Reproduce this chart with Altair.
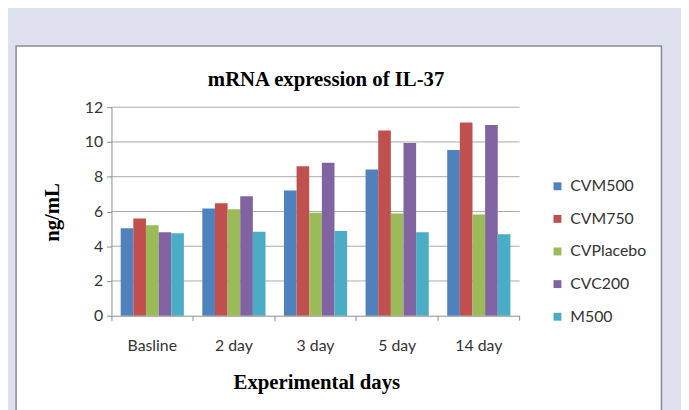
import altair as alt
import pandas as pd

days = ["Basline", "2 day", "3 day", "5 day", "14 day"]
groups = ["CVM500", "CVM750", "CVPlacebo", "CVC200", "M500"]
colors = ["#4F81BD", "#C0504D", "#9BBB59", "#8064A2", "#4BACC6"]

cvm500 = [5.03, 6.17, 7.21, 8.41, 9.54]
cvm750 = [5.60, 6.47, 8.60, 10.66, 11.12]
cvplacebo = [5.20, 6.13, 5.92, 5.88, 5.83]
cvc200 = [4.80, 6.87, 8.80, 9.94, 10.97]
m500 = [4.74, 4.84, 4.88, 4.80, 4.69]

y_ticks = [0, 2, 4, 6, 8, 10, 12]

series = [cvm500, cvm750, cvplacebo, cvc200, m500]
rows = []
for g, vals in zip(groups, series):
    for d, v in zip(days, vals):
        rows.append({"day": d, "group": g, "value": v})
df = pd.DataFrame(rows)

W, H = 413, 211
LABEL_FONT = "Lato"
SERIF = "Liberation Serif"

y_axis = alt.Axis(
    values=y_ticks,
    tickCount=7,
    grid=False,
    tickSize=5,
    tickColor="#8c8c8c",
    domainColor="#8c8c8c",
    labelFont=LABEL_FONT,
    labelFontSize=16,
    labelColor="#333333",
    labelPadding=4,
    labelOverlap=False,
    labelFlush=False,
    title="ng/mL",
    titleFont=SERIF,
    titleFontSize=21,
    titleFontWeight="bold",
    titleColor="black",
    titleAngle=270,
    titleX=-53.7,
    titleY=106,
    titleAlign="center",
    titleBaseline="alphabetic",
    zindex=1,
)
y_scale = alt.Scale(domain=[0, 12], nice=False)

box = alt.Chart(pd.DataFrame({"a": [0]})).mark_rect(
    fill="white", stroke="#8c8c8c", strokeWidth=1.5
).encode(
    x=alt.value(-96.5), x2=alt.value(556.5), y=alt.value(-62), y2=alt.value(330)
)

grid = alt.Chart(pd.DataFrame({"value": y_ticks[1:]})).mark_rule(
    color="#a9a9a9", strokeWidth=1
).encode(
    y=alt.Y("value:Q", scale=y_scale, axis=y_axis),
    x=alt.value(0),
    x2=alt.value(W),
)

bars = alt.Chart(df).mark_bar().encode(
    x=alt.X(
        "day:N",
        sort=days,
        scale=alt.Scale(paddingInner=0, paddingOuter=0),
        axis=alt.Axis(
            bandPosition=0,
            labelAngle=0,
            tickSize=5,
            tickColor="#8c8c8c",
            domainColor="#8c8c8c",
            labelFont=LABEL_FONT,
            labelFontSize=16,
            labelColor="#333333",
            labelBaseline="alphabetic",
            labelPadding=30,
            labelOverlap=False,
            title="Experimental days",
            titleFont=SERIF,
            titleFontSize=21,
            titleFontWeight="bold",
            titleColor="black",
            titleX=207.3,
            titleY=73.3,
            titleAlign="center",
            titleBaseline="alphabetic",
            zindex=1,
        ),
    ),
    xOffset=alt.XOffset(
        "group:N", sort=groups, scale=alt.Scale(paddingInner=0, paddingOuter=0.73)
    ),
    y=alt.Y("value:Q", scale=y_scale, axis=y_axis),
    color=alt.Color(
        "group:N",
        sort=groups,
        scale=alt.Scale(domain=groups, range=colors),
        legend=alt.Legend(
            title=None,
            orient="none",
            legendX=443.3,
            legendY=72,
            symbolType="square",
            symbolSize=64,
            symbolStrokeWidth=0,
            labelFont=LABEL_FONT,
            labelFontSize=16,
            labelColor="#333333",
            labelOffset=5,
            rowPadding=17,
            padding=0,
        ),
    ),
)

end_tick = alt.Chart(pd.DataFrame({"a": [0]})).mark_rule(color="#8c8c8c").encode(
    x=alt.value(W), y=alt.value(H), y2=alt.value(H + 5)
)

title = alt.Chart(pd.DataFrame({"a": [0]})).mark_text(
    text="mRNA expression of IL-37",
    font=SERIF,
    fontSize=21,
    fontWeight="bold",
    color="black",
    align="center",
    baseline="alphabetic",
).encode(x=alt.value(217.2), y=alt.value(-21))

chart = alt.layer(box, grid, bars, end_tick, title).properties(
    width=W,
    height=H,
    background="#dde1ef",
    autosize=alt.AutoSizeParams(type="none"),
    padding={"left": 104.7, "top": 98, "right": 163.3, "bottom": 93},
).configure_view(stroke=None)

chart.save("out.html", embed_options={"renderer": "svg", "actions": False})
